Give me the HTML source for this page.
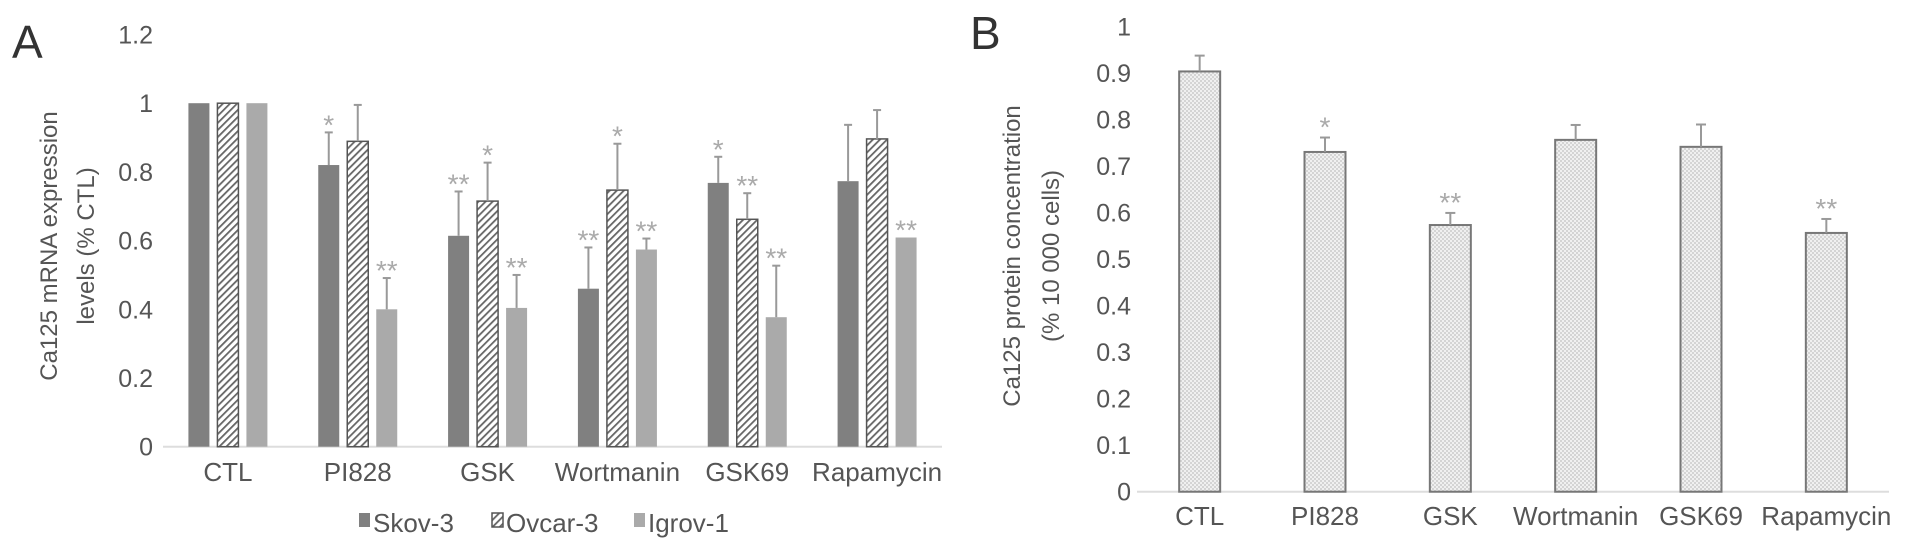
<!DOCTYPE html>
<html><head><meta charset="utf-8">
<style>
html,body{margin:0;padding:0;background:#fff;}
svg{display:block;}
text{font-family:"Liberation Sans",sans-serif;fill:#555;}
</style></head>
<body>
<svg id="fig" width="1913" height="548" viewBox="0 0 1913 548">
<defs>
<pattern id="hatch" patternUnits="userSpaceOnUse" width="5" height="5" patternTransform="rotate(45)">
<rect width="5" height="5" fill="#fff"/><rect x="0" y="0" width="1.8" height="5" fill="#666"/>
</pattern>
<pattern id="dots" patternUnits="userSpaceOnUse" width="4" height="4">
<rect width="4" height="4" fill="#f0f0f0"/><rect width="2" height="2" fill="#d4d4d4"/><rect x="2" y="2" width="2" height="2" fill="#d4d4d4"/>
</pattern>
</defs>
<g id="chartA"></g>
<g id="chartB"></g>
</svg>
<script>
const catsA = ["CTL","PI828","GSK","Wortmanin","GSK69","Rapamycin"];
const seriesNames = ["Skov-3","Ovcar-3","Igrov-1"];
const skov = [1.0,0.82,0.614,0.46,0.768,0.773];
const ovcar = [1.0,0.889,0.715,0.747,0.662,0.896];
const igrov = [1.0,0.40,0.404,0.574,0.377,0.609];
const skovErr = [0,0.095,0.129,0.12,0.076,0.164];
const ovcarErr = [0,0.106,0.112,0.135,0.076,0.084];
const igrovErr = [0,0.091,0.096,0.032,0.15,0];
const skovSig = ["","*","**","**","*",""];
const ovcarSig = ["","","*","*","**",""];
const igrovSig = ["","**","**","**","**","**"];
const ticksA = [0,0.2,0.4,0.6,0.8,1,1.2];
const tickLabelsA = ["0","0.2","0.4","0.6","0.8","1","1.2"];

const catsB = ["CTL","PI828","GSK","Wortmanin","GSK69","Rapamycin"];
const valsB = [0.903,0.730,0.573,0.756,0.741,0.556];
const errB = [0.034,0.031,0.026,0.032,0.048,0.03];
const sigB = ["","*","**","","","**"];
const ticksB = [0,0.1,0.2,0.3,0.4,0.5,0.6,0.7,0.8,0.9,1];
const tickLabelsB = ["0","0.1","0.2","0.3","0.4","0.5","0.6","0.7","0.8","0.9","1"];

const NS="http://www.w3.org/2000/svg";
function mk(parent,tag,attrs,txt){const e=document.createElementNS(NS,tag);for(const k in attrs)e.setAttribute(k,attrs[k]);if(txt!==undefined)e.textContent=txt;parent.appendChild(e);return e;}

// Chart A
const A=document.getElementById('chartA');
const yA=v=>446.7-v*343.5;
const x0A=163,x1A=942,gwA=(x1A-x0A)/catsA.length;
const xcA=i=>x0A+gwA*(i+0.5);
let t=mk(A,'text',{x:12,y:58,'font-size':46,style:'fill:#333'},'A');


mk(A,'line',{x1:x0A,x2:x1A,y1:yA(0),y2:yA(0),stroke:'#ddd','stroke-width':2});
ticksA.forEach((v,i)=>{const e=mk(A,'text',{x:153,y:yA(v)+9,'font-size':25,'text-anchor':'end'},tickLabelsA[i]);

});
const yt=mk(A,'text',{transform:'translate(0,246) rotate(-90)','font-size':24,'text-anchor':'middle'});


mk(yt,'tspan',{x:0,y:57},'Ca125 mRNA expression');
mk(yt,'tspan',{x:0,y:94},'levels (% CTL)');
const sets=[[skov,skovErr,skovSig,'#808080','none'],[ovcar,ovcarErr,ovcarSig,'url(#hatch)','#555'],[igrov,igrovErr,igrovSig,'#aaaaaa','none']];
const bw=21,pitch=29;
catsA.forEach((c,i)=>{
  sets.forEach((s,j)=>{
    const v=s[0][i],x=xcA(i)+(j-1)*pitch-bw/2;
    const r=mk(A,'rect',{x:x,y:yA(v),width:bw,height:yA(0)-yA(v),fill:s[3],stroke:s[4],'stroke-width':1.5});
    
    
    const top=v+s[1][i];
    if(s[1][i]>0){mk(A,'line',{x1:x+bw/2,x2:x+bw/2,y1:yA(v),y2:yA(top),stroke:'#999','stroke-width':2});
      mk(A,'line',{x1:x+bw/2-4,x2:x+bw/2+4,y1:yA(top),y2:yA(top),stroke:'#999','stroke-width':2});}
    if(s[2][i]){const st=mk(A,'text',{x:x+bw/2,y:yA(Math.max(top,v))+2,'font-size':28,'text-anchor':'middle',style:'fill:#aaa'},s[2][i]);
      
      }
  });
  const l=mk(A,'text',{x:xcA(i),y:481,'font-size':26,'text-anchor':'middle'},c);
  
  
});
const legX=[359,492,634],legFill=['#808080','url(#hatch)','#aaaaaa'];
seriesNames.forEach((n,j)=>{
  const g=mk(A,'g',{});
  
  
  mk(g,'rect',{x:legX[j],y:513,width:11,height:14,fill:legFill[j],stroke:j==1?'#555':'none','stroke-width':1.5});
  mk(g,'text',{x:legX[j]+14,y:532,'font-size':26},n);
});

// Chart B
const B=document.getElementById('chartB');
const yB=v=>491.7-v*465.4;
const x0B=1137,x1B=1889,gwB=(x1B-x0B)/catsB.length;
const xcB=i=>x0B+gwB*(i+0.5);
t=mk(B,'text',{x:970,y:49,'font-size':46,style:'fill:#333'},'B');


mk(B,'line',{x1:x0B,x2:x1B,y1:yB(0),y2:yB(0),stroke:'#ddd','stroke-width':2});
ticksB.forEach((v,i)=>{const e=mk(B,'text',{x:1131,y:yB(v)+9,'font-size':25,'text-anchor':'end'},tickLabelsB[i]);

});
const ytb=mk(B,'text',{transform:'translate(0,256) rotate(-90)','font-size':24,'text-anchor':'middle'});


mk(ytb,'tspan',{x:0,y:1020},'Ca125 protein concentration');
mk(ytb,'tspan',{x:0,y:1059},'(% 10 000 cells)');
catsB.forEach((c,i)=>{
  const v=valsB[i],bwB=41,x=xcB(i)-bwB/2;
  const r=mk(B,'rect',{x:x,y:yB(v),width:bwB,height:yB(0)-yB(v),fill:'url(#dots)',stroke:'#777','stroke-width':2});
  
  
  const top=v+errB[i];
  mk(B,'line',{x1:xcB(i),x2:xcB(i),y1:yB(v),y2:yB(top),stroke:'#999','stroke-width':2});
  mk(B,'line',{x1:xcB(i)-5,x2:xcB(i)+5,y1:yB(top),y2:yB(top),stroke:'#999','stroke-width':2});
  if(sigB[i]){const st=mk(B,'text',{x:xcB(i),y:yB(top)-1,'font-size':28,'text-anchor':'middle',style:'fill:#aaa'},sigB[i]);
    
    }
  const l=mk(B,'text',{x:xcB(i),y:525,'font-size':26,'text-anchor':'middle'},c);
  
  
});
</script>
</body></html>
